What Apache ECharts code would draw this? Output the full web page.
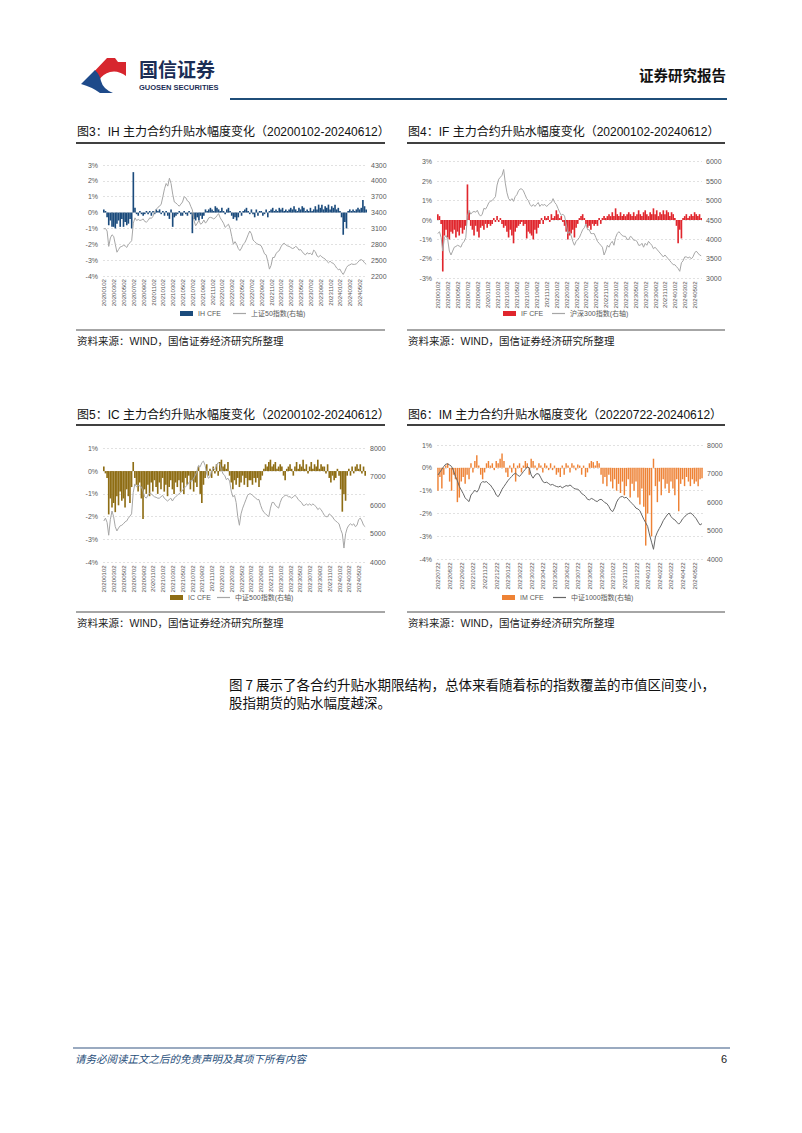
<!DOCTYPE html>
<html><head><meta charset="utf-8">
<script src="https://cdn.jsdelivr.net/npm/echarts/dist/echarts.min.js"></script>
<style>
html,body{margin:0;padding:0;background:#fff;}
body{width:802px;height:1133px;position:relative;overflow:hidden;font-family:"Liberation Sans","Noto Sans CJK SC",sans-serif;color:#111;}
#chart{position:absolute;left:0;top:0;width:802px;height:1133px;}
.t{position:absolute;white-space:nowrap;}
.title{font-size:12px;line-height:14px;color:#111;}
.src{font-size:10.5px;line-height:12px;color:#222;}
.ln{position:absolute;}
</style></head><body>
<div id="chart"></div>
<svg style="position:absolute;left:0;top:0" width="240" height="110">
  <path d="M89 77 L107 58 L115 58 L118 62 L126 62 L126 76 Q118 70 110 72 Q103 74 99 80 Q94 79 89 77 Z" fill="#D7262E"/>
  <path d="M81 84 L95 70 Q100 75 101 81 Q103 89 113 93 L100 93 Q92 87 81 84 Z" fill="#1E4A8A"/>
</svg>
<div class="t" style="left:139px;top:58px;font-size:19px;line-height:22px;font-weight:bold;color:#1B2D55;font-family:'Noto Sans CJK SC';">国信证券</div>
<div class="t" style="left:139px;top:83px;font-size:7.5px;line-height:9px;font-weight:bold;color:#1B2D55;">GUOSEN SECURITIES</div>
<div class="t" style="right:76px;top:66px;font-size:14.5px;line-height:18px;font-weight:bold;color:#111;font-family:'Noto Sans CJK SC';">证券研究报告</div>
<div class="ln" style="left:230px;top:98px;width:497px;height:2px;background:#1F4E79;"></div>

<div class="t title" style="left:77px;top:125px;">图3：IH 主力合约升贴水幅度变化（20200102-20240612）</div>
<div class="ln" style="left:76px;top:142px;width:309px;height:1.5px;background:#404040;"></div>
<div class="t title" style="left:408px;top:125px;">图4：IF 主力合约升贴水幅度变化（20200102-20240612）</div>
<div class="ln" style="left:407px;top:142px;width:318px;height:1.5px;background:#404040;"></div>
<div class="ln" style="left:76px;top:329px;width:309px;height:2px;background:#A6A6A6;"></div>
<div class="ln" style="left:407px;top:329px;width:318px;height:2px;background:#A6A6A6;"></div>
<div class="t src" style="left:77px;top:335px;">资料来源：WIND，国信证券经济研究所整理</div>
<div class="t src" style="left:408px;top:335px;">资料来源：WIND，国信证券经济研究所整理</div>

<div class="t title" style="left:77px;top:408px;">图5：IC 主力合约升贴水幅度变化（20200102-20240612）</div>
<div class="ln" style="left:76px;top:424px;width:309px;height:1.5px;background:#404040;"></div>
<div class="t title" style="left:408px;top:408px;">图6：IM 主力合约升贴水幅度变化（20220722-20240612）</div>
<div class="ln" style="left:407px;top:424px;width:318px;height:1.5px;background:#404040;"></div>
<div class="ln" style="left:76px;top:611px;width:309px;height:2px;background:#A6A6A6;"></div>
<div class="ln" style="left:407px;top:611px;width:318px;height:2px;background:#A6A6A6;"></div>
<div class="t src" style="left:77px;top:617px;">资料来源：WIND，国信证券经济研究所整理</div>
<div class="t src" style="left:408px;top:617px;">资料来源：WIND，国信证券经济研究所整理</div>

<div class="t" style="left:229px;top:675px;font-size:13.5px;line-height:18px;color:#111;font-family:'Noto Sans CJK SC';">图 7 展示了各合约升贴水期限结构，总体来看随着标的指数覆盖的市值区间变小，<br>股指期货的贴水幅度越深。</div>

<div class="ln" style="left:73px;top:1047px;width:657px;height:1.5px;background:#9AAAC0;"></div>
<div class="t" style="left:75px;top:1052px;font-size:10.5px;line-height:14px;font-style:italic;color:#1F4E79;font-family:'Noto Sans CJK SC';">请务必阅读正文之后的免责声明及其项下所有内容</div>
<div class="t" style="right:75px;top:1052px;font-size:11px;line-height:14px;color:#222;">6</div>

<script>
// ---- categories ----
const dates = [];
for (let y = 2020; y <= 2024; y++) for (let m = 1; m <= 12; m++) for (const d of ['02','12','22']) {
  const s = '' + y + String(m).padStart(2,'0') + d; if (s <= '20240612') dates.push(s);
}
const imDates = [];
for (let y = 2022; y <= 2024; y++) for (let m = 1; m <= 12; m++) for (const d of ['02','07','12','17','22','27']) {
  const s = '' + y + String(m).padStart(2,'0') + d; if (s >= '20220722' && s <= '20240612') imDates.push(s);
}

// ---- IH basis (%) and SSE 50 ----
const ihBasis = [
 0.2,0.1,-0.3, -0.8,-0.5,-0.9, -0.9,-1.0,-0.7, -0.5,-0.9,-0.4, -0.9,-0.6,-0.8, -0.7,-0.4,-1.0,
 2.55,0.3,-0.1, -0.2,0.1,-0.1, -0.2,-0.1,0.1, -0.1,0.1,-0.2, 0.1,-0.1,0.2, 0.1,0.2,-0.1,
 0.1,-0.2,0.1, -0.2,-0.4,0.2, -0.9,-0.3,-0.2, -0.1,0.1,-0.2, -0.2,0.1,-0.1, -0.2,0.1,-0.1,
 -1.3,-0.4,-0.5, -0.3,-0.5,-0.2, -0.4,-0.2,0.2, 0.1,0.2,0.3, 0.2,0.1,0.4, 0.3,0.2,0.1,
 0.3,0.1,-0.1, 0.2,0.3,0.1, -0.2,-0.4,-0.3, -0.5,-0.3,0.1, -0.2,0.1,0.2, 0.3,0.1,-0.1,
 0.2,-0.1,-0.3, 0.2,-0.2,0.1, 0.1,-0.2,-0.1, 0.2,-0.3,0.1, 0.2,0.3,0.1, 0.2,0.1,0.3,
 0.2,0.3,0.1, 0.2,0.1,0.2, 0.3,0.2,0.4, 0.2,0.1,0.3, 0.2,0.4,0.3, 0.1,0.2,0.1,
 0.3,0.1,0.2, 0.4,0.2,0.5, 0.3,0.5,0.2, 0.4,0.3,0.5, 0.2,0.4,0.3, 0.5,0.2,0.3,
 0.1,-0.3,-1.4, -0.6,-1.0,0.1, 0.2,0.1,0.2, 0.1,0.2,0.3, 0.2,0.3,0.8, 0.4,0.2
];
const sse50 = [
 3090,3100,3050, 2760,2920,2980, 2950,2800,2650, 2700,2750,2760, 2780,2770,2740, 2800,2830,2870,
 3200,3300,3250, 3270,3250,3260, 3280,3230,3220, 3250,3300,3290, 3330,3420,3460, 3500,3520,3560,
 3700,3850,3950, 3900,4050,3950, 3750,3600,3580, 3550,3520,3560, 3600,3700,3680, 3620,3600,3520,
 3450,3250,3150, 3200,3250,3180, 3200,3260,3200, 3240,3300,3310, 3300,3280,3300, 3340,3380,3300,
 3250,3200,3120, 3150,3180,3100, 2950,2800,2850, 2800,2720,2680, 2730,2800,2830, 2900,2980,3050,
 3000,2880,2850, 2820,2800,2790, 2770,2700,2620, 2600,2480,2330, 2400,2550,2550, 2620,2660,2680,
 2750,2800,2820, 2790,2770,2760, 2740,2720,2730, 2760,2740,2690, 2700,2660,2620, 2600,2640,2620,
 2630,2600,2690, 2660,2580,2560, 2590,2560,2540, 2520,2480,2450, 2480,2450,2440, 2400,2350,2320,
 2330,2270,2230, 2290,2360,2400, 2410,2430,2420, 2420,2430,2460, 2500,2510,2490, 2450,2420
];

// ---- IF basis (%) and CSI 300 ----
const ifBasis = [
 0.3,0.2,-0.2, -2.65,-0.8,-0.5, -0.9,-1.0,-0.6, -0.7,-0.5,-0.9, -0.6,-0.8,-0.4, -0.7,-0.5,-0.3,
 1.83,0.4,-0.3, -0.5,-0.8,-0.3, -0.6,-0.9,-0.4, -0.3,-0.5,-0.2, -0.4,-0.2,-0.3, -0.2,0.1,-0.1,
 0.2,-0.1,0.1, -0.2,-0.4,-0.3, -0.6,-0.9,-0.5, -0.8,-1.2,-0.6, -0.4,-0.3,-0.2, -0.1,-0.3,-0.2,
 -0.95,-0.6,-0.7, -0.8,-1.0,-0.5, -0.7,-0.4,-0.2, 0.1,-0.2,0.2, 0.1,0.2,-0.1, 0.3,0.1,0.2,
 0.5,0.3,0.1, 0.2,-0.1,-0.3, -0.6,-1.0,-0.8, -0.7,-0.5,-0.9, -0.4,-0.2,0.1, 0.2,0.3,0.1,
 -0.2,-0.4,-0.3, -0.5,-0.2,-0.3, -0.2,-0.3,0.1, -0.2,0.1,0.2, 0.1,0.2,0.3, 0.2,0.4,0.2,
 0.6,0.3,0.2, 0.4,0.2,0.3, 0.2,0.3,0.4, 0.3,0.2,0.4, 0.2,0.3,0.5, 0.3,0.2,0.4,
 0.5,0.3,0.2, 0.4,0.3,0.6, 0.3,0.5,0.2, 0.4,0.3,0.5, 0.3,0.5,0.4, 0.2,0.4,0.3,
 0.1,-0.3,-1.2, -0.5,-0.95,0.1, 0.2,0.3,0.1, 0.2,0.3,0.2, 0.4,0.3,0.2, 0.3,0.1
];
const csi300 = [
 4150,4200,4050, 3700,4050,4100, 4000,3700,3600, 3700,3800,3820, 3850,3830,3800, 3900,3950,4050,
 4600,4750,4650, 4700,4720,4700, 4750,4650,4600, 4650,4800,4780, 4850,4950,4980, 5000,5050,5100,
 5400,5550,5600, 5650,5800,5450, 5200,5050,5000, 5050,4980,5100, 5150,5250,5300, 5300,5250,5150,
 5050,5000,4900, 4850,4900,4850, 4900,4950,4850, 4900,4880,4900, 4850,4880,4930, 4950,5050,4950,
 4900,4800,4700, 4620,4650,4600, 4400,4150,4200, 4100,3950,3850, 3950,4000,4050, 4150,4250,4300,
 4400,4250,4250, 4150,4150,4150, 4050,3950,3900, 3850,3800,3600, 3700,3850,3800, 3900,3950,3850,
 4050,4150,4200, 4150,4100,4080, 4080,4000,4000, 4080,4050,3980, 3980,3950,3850, 3850,3900,3800,
 3900,3850,3950, 3900,3850,3760, 3800,3750,3700, 3650,3600,3550, 3600,3550,3500, 3450,3400,3350,
 3350,3300,3250, 3180,3400,3450, 3550,3550,3520, 3550,3500,3550, 3650,3700,3650, 3600,3580
];

// ---- IC basis (%) and CSI 500 ----
const icBasis = [
 0.2,-0.1,-0.3, -1.9,-1.2,-1.6, -1.4,-1.8,-1.1, -1.5,-0.9,-1.3, -1.2,-1.6,-0.8, -1.1,-1.4,-0.7,
 0.4,-0.3,-0.6, -0.9,-0.5,-1.2, -2.1,-0.8,-1.0, -0.6,-1.1,-0.5, -0.9,-0.4,-0.7, -1.0,-0.5,-0.8,
 -0.3,-0.9,-0.6, -1.1,-0.7,-0.4, -0.8,-1.0,-0.5, -0.7,-0.4,-0.9, -0.5,-1.0,-0.3, -0.6,-0.2,-0.8,
 -0.4,-0.9,-0.5, -0.7,0.2,-1.0, -1.4,-0.6,-0.3, 0.3,-0.2,0.1, -0.3,0.2,-0.1, 0.3,-0.2,0.4,
 0.5,0.2,0.3, 0.1,0.4,-0.2, -0.5,-0.8,-0.4, -0.6,-0.3,-0.7, -0.5,-0.2,-0.6, -0.3,-0.7,-0.4,
 -0.4,-0.6,-0.3, -0.5,-0.3,-0.7, -0.4,-0.2,0.1, 0.3,0.2,0.4, 0.5,0.2,0.3, 0.4,0.1,0.2,
 0.3,0.2,-0.2, -0.4,0.1,0.2, 0.3,0.1,-0.2, 0.2,0.4,0.1, 0.3,0.2,0.5, 0.1,0.3,-0.1,
 0.2,0.4,0.1, 0.3,0.2,0.5, 0.1,0.3,0.2, 0.2,-0.1,0.3, -0.3,-0.5,-0.2, -0.4,-0.3,0.1,
 -0.2,-0.8,-1.78, -1.0,-1.3,-0.2, 0.1,-0.2,0.2, -0.1,0.2,0.3, 0.1,0.3,-0.1, 0.2,-0.2
];
const csi500 = [
 5450,5550,5400, 4950,5500,5800, 5600,5250,5100, 5200,5280,5300, 5350,5420,5450, 5550,5620,5700,
 6450,6750,6650, 6700,6680,6650, 6500,6300,6250, 6350,6420,6400, 6350,6300,6280, 6250,6250,6300,
 6350,6250,6200, 6150,6200,6250, 6150,6250,6300, 6350,6400,6450, 6500,6600,6650, 6700,6800,6850,
 6850,6950,7050, 7200,7400,7350, 7500,7550,7400, 7100,6950,7000, 7200,7300,7250, 7400,7500,7450,
 7250,7100,7050, 6900,6950,6850, 6500,6300,6350, 6100,5600,5300, 5700,5900,6050, 6200,6350,6400,
 6400,6350,6300, 6250,6200,6200, 6000,5850,5750, 5700,5650,5600, 5900,6100,6100, 6000,5950,5900,
 6100,6250,6300, 6350,6350,6300, 6300,6250,6300, 6350,6300,6200, 6150,6100,6000, 6000,6050,6000,
 6050,6000,6050, 6000,5950,5850, 5900,5850,5750, 5650,5600,5600, 5700,5650,5600, 5500,5450,5400,
 5350,5150,5000, 4500,5000,5200, 5300,5350,5300, 5350,5250,5300, 5500,5550,5450, 5300,5250
];

// ---- IM basis (%) and CSI 1000 ----
const imBasis = [
 -1.0,-0.4,
 -0.9,-0.3,0.1,0.2,-0.6,-1.0,
 -0.3,-0.5,-1.5,-1.3,-0.6,-0.4,
 -0.7,-0.3,-0.5,0.2,-0.2,0.3,
 0.55,0.1,-0.3,-0.5,-0.2,0.2,
 0.3,0.1,0.2,-0.1,0.3,0.2,
 0.4,0.63,0.3,-0.2,-0.4,0.1,
 -0.2,0.2,-0.6,0.1,0.2,-0.2,
 0.1,0.3,0.2,-0.3,0.4,0.3,
 0.1,-0.1,0.2,0.1,-0.2,0.2,
 0.1,-0.1,0.2,-0.1,0.1,-0.3,
 -0.2,-0.4,0.1,-0.3,0.2,0.1,
 -0.2,0.2,0.1,-0.1,0.15,0.1,
 -0.3,0.1,-0.4,-0.2,0.2,0.3,
 0.25,0.1,0.3,0.2,-0.3,-0.7,
 -0.4,-0.8,-0.3,-0.6,-0.9,-0.5,
 -1.0,-0.7,-1.1,-0.6,-1.2,-0.8,
 -0.5,-1.3,-0.7,-1.0,-0.6,-1.3,
 -1.6,-0.9,-1.7,-3.4,-2.0,-1.2,
 -3.0,0.4,-0.8,-1.5,-0.6,-1.2,
 -0.5,-0.9,-0.7,-1.1,-0.6,-0.9,
 -1.2,-0.5,-1.9,-0.7,-0.5,-0.8,
 -0.4,-0.6,-0.8,-0.5,-0.7,-0.6,
 -0.8,-0.5,-0.45
];
const csi1000 = [
 6950,7050,
 7150,7250,7330,7340,7300,7250,
 7100,6900,6750,6550,6420,6300,
 6150,6080,6020,6250,6330,6420,
 6350,6450,6650,6720,6700,6720,
 6650,6600,6500,6400,6250,6190,
 6300,6450,6550,6650,6750,6830,
 6900,6980,7010,6950,6900,6980,
 7070,7150,7240,7200,6950,6840,
 6950,7000,6980,6850,6720,6680,
 6700,6650,6600,6620,6580,6550,
 6530,6560,6500,6540,6580,6560,
 6600,6550,6480,6460,6450,6400,
 6300,6260,6200,6100,6080,6130,
 6100,6050,6020,6080,6100,6050,
 5980,5950,5850,5720,5670,5800,
 6000,6120,6180,6200,6150,6170,
 6100,6020,5950,5880,5790,5760,
 5700,5550,5400,5280,5150,4850,
 4600,4350,4780,4950,5080,5200,
 5350,5450,5550,5620,5500,5420,
 5380,5300,5230,5300,5420,5480,
 5560,5600,5620,5580,5500,5420,
 5300,5200,5250
];

const FONT = 'Liberation Sans, Noto Sans CJK SC, sans-serif';
const LBL = '#595959';
const grids = [
  {left:103, top:165, width:264, height:111},
  {left:437, top:161.7, width:265, height:116.6},
  {left:103, top:448.3, width:263, height:114},
  {left:437, top:445, width:266, height:114.3}
];
const biMonthly = (i, v) => v.slice(6) === '02' && (+v.slice(4,6)) % 2 === 1;
const monthly22 = (i, v) => v.slice(6) === '22';
function xAx(gi, data, fn) {
  return {type:'category', gridIndex:gi, data:data, boundaryGap:true,
    axisLine:{show:false, onZero:false}, axisTick:{show:false},
    axisLabel:{rotate:90, fontSize:6.1, color:LBL, margin:3, interval:fn, fontFamily:FONT}};
}
function yLeft(gi, min, max) {
  return {type:'value', gridIndex:gi, position:'left', min:min, max:max, interval:1,
    axisLine:{show:false}, axisTick:{show:false},
    axisLabel:{formatter:'{value}%', fontSize:7, color:LBL, margin:5, fontFamily:FONT},
    splitLine:{show:true, lineStyle:{color:'#D9D9D9', type:[2,2], width:0.8}}};
}
function yRight(gi, min, max, iv) {
  return {type:'value', gridIndex:gi, position:'right', min:min, max:max, interval:iv,
    axisLine:{show:false}, axisTick:{show:false}, splitLine:{show:false},
    axisLabel:{formatter:(v) => String(v), fontSize:7, color:LBL, margin:4, fontFamily:FONT}};
}
function legendBar(left, top, name) {
  return {left:left, top:top, itemWidth:13, itemHeight:5, padding:0,
    data:[{name:name, icon:'rect'}], textStyle:{fontSize:7, color:LBL, fontFamily:FONT}};
}
function legendLine(left, top, name) {
  return {left:left, top:top, itemWidth:13, itemHeight:1.2, padding:0,
    data:[{name:name, icon:'rect'}], textStyle:{fontSize:7, color:LBL, fontFamily:FONT}};
}
function bar(name, gi, data, color, gap) {
  return {name:name, type:'bar', xAxisIndex:gi, yAxisIndex:gi*2, data:data,
    itemStyle:{color:color}, barCategoryGap:gap};
}
function line(name, gi, data, color) {
  return {name:name, type:'line', xAxisIndex:gi, yAxisIndex:gi*2+1, data:data,
    symbol:'none', lineStyle:{color:color, width:1}, itemStyle:{color:color}};
}

const chart = echarts.init(document.getElementById('chart'), null, {renderer:'svg'});
chart.setOption({
  animation:false,
  textStyle:{fontFamily:FONT},
  grid:grids,
  xAxis:[xAx(0,dates,biMonthly), xAx(1,dates,biMonthly), xAx(2,dates,biMonthly), xAx(3,imDates,monthly22)],
  yAxis:[
    yLeft(0,-4,3), yRight(0,2200,4300,300),
    yLeft(1,-3,3), yRight(1,3000,6000,500),
    yLeft(2,-4,1), yRight(2,4000,8000,1000),
    yLeft(3,-4,1), yRight(3,4000,8000,1000)
  ],
  legend:[
    legendBar(180,310,'IH CFE'), legendLine(233,310,'上证50指数(右轴)'),
    legendBar(503,310,'IF CFE'), legendLine(552,310,'沪深300指数(右轴)'),
    legendBar(170,594,'IC CFE'), legendLine(217,594,'中证500指数(右轴)'),
    legendBar(502,594,'IM CFE'), legendLine(553,594,'中证1000指数(右轴)')
  ],
  series:[
    bar('IH CFE',0,ihBasis,'#1B4B7C','0%'),
    line('上证50指数(右轴)',0,sse50,'#A6A6A6'),
    bar('IF CFE',1,ifBasis,'#E0262D','0%'),
    line('沪深300指数(右轴)',1,csi300,'#A6A6A6'),
    bar('IC CFE',2,icBasis,'#8E6D14','0%'),
    line('中证500指数(右轴)',2,csi500,'#A6A6A6'),
    bar('IM CFE',3,imBasis,'#EE8235','25%'),
    line('中证1000指数(右轴)',3,csi1000,'#666666')
  ]
});
</script>
</body></html>
